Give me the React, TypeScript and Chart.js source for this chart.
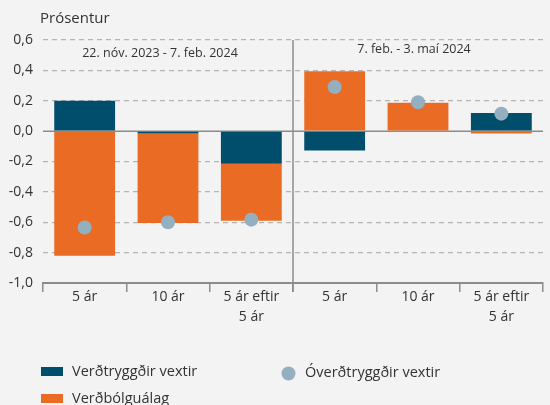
import React, { useEffect, useRef } from "react";
import { Chart, registerables } from "chart.js";

Chart.register(...registerables);

const categories: string[][] = [
  ["5 ár"],
  ["10 ár"],
  ["5 ár eftir", "5 ár"],
  ["5 ár"],
  ["10 ár"],
  ["5 ár eftir", "5 ár"],
];
const realRates = [0.2, -0.015, -0.215, -0.128, 0, 0.12];
const inflationComp = [-0.82, -0.59, -0.375, 0.395, 0.187, -0.015];
const nominalRates = [-0.635, -0.6, -0.583, 0.29, 0.19, 0.115];
const periodLabels = ["22. nóv. 2023 - 7. feb. 2024", "7. feb. - 3. maí 2024"];
const seriesNames = ["Verðtryggðir vextir", "Verðbólguálag", "Óverðtryggðir vextir"];
const yMin = -1.0;
const yMax = 0.6;
const yStep = 0.2;
const yTitle = "Prósentur";

const TEAL = "#004e6b";
const ORANGE = "#ea6c24";
const DOT = "#93afc0";
const TEXT = "#333333";
const FONT = "'Open Sans', 'Noto Sans', sans-serif";

const fmt = (v: number) => {
  let r = Math.round(v * 10) / 10;
  if (r === 0) r = 0;
  return r.toFixed(1).replace(".", ",");
};

const extrasPlugin = {
  id: "extras",
  beforeDraw(chart: any) {
    const ctx = chart.ctx;
    ctx.save();
    ctx.fillStyle = "#f3f3f3";
    ctx.fillRect(0, 0, chart.width, chart.height);
    ctx.restore();
  },
  beforeDatasetsDraw(chart: any) {
    const ctx = chart.ctx;
    const y = chart.scales.y;
    const x = chart.scales.x;
    const area = chart.chartArea;
    ctx.save();
    // zero line
    const y0 = y.getPixelForValue(0);
    ctx.strokeStyle = "#8c8c8c";
    ctx.lineWidth = 1.5;
    ctx.beginPath();
    ctx.moveTo(area.left, y0);
    ctx.lineTo(area.right, y0);
    ctx.stroke();
    // separator
    const xs = (x.getPixelForValue(2) + x.getPixelForValue(3)) / 2;
    ctx.strokeStyle = "#8c8c8c";
    ctx.lineWidth = 1.5;
    ctx.beginPath();
    ctx.moveTo(xs, area.top);
    ctx.lineTo(xs, area.bottom + 9);
    ctx.stroke();
    ctx.restore();
  },
  afterDraw(chart: any) {
    const ctx = chart.ctx;
    const x = chart.scales.x;
    const area = chart.chartArea;
    ctx.save();
    ctx.fillStyle = TEXT;
    // y title
    ctx.font = `15px ${FONT}`;
    ctx.textAlign = "left";
    ctx.textBaseline = "middle";
    ctx.fillText(yTitle, 40, 19);
    // period labels
    ctx.font = `12.5px ${FONT}`;
    ctx.textAlign = "center";
    const c1 = (x.getPixelForValue(0) + x.getPixelForValue(2)) / 2 - 8;
    const c2 = (x.getPixelForValue(3) + x.getPixelForValue(5)) / 2 - 4;
    ctx.fillText(periodLabels[0], c1, area.top + 13);
    ctx.fillText(periodLabels[1], c2, area.top + 9);
    // legend
    ctx.font = `14.5px ${FONT}`;
    ctx.textAlign = "left";
    ctx.fillStyle = TEAL;
    ctx.fillRect(41, 367, 22, 9);
    ctx.fillStyle = ORANGE;
    ctx.fillRect(41, 394, 22, 9);
    ctx.fillStyle = DOT;
    ctx.beginPath();
    ctx.arc(288.5, 373.5, 7, 0, Math.PI * 2);
    ctx.fill();
    ctx.fillStyle = TEXT;
    ctx.fillText(seriesNames[0], 72, 372);
    ctx.fillText(seriesNames[1], 72, 399);
    ctx.fillText(seriesNames[2], 305, 373);
    ctx.restore();
  },
};

export default function App() {
  const ref = useRef<HTMLCanvasElement | null>(null);
  useEffect(() => {
    if (!ref.current) return;
    const chart = new Chart(ref.current, {
      type: "bar",
      data: {
        labels: categories,
        datasets: [
          {
            type: "line",
            label: seriesNames[2],
            data: nominalRates,
            showLine: false,
            pointRadius: 7,
            pointHoverRadius: 7,
            pointBackgroundColor: DOT,
            pointBorderWidth: 0,
            borderColor: DOT,
            backgroundColor: DOT,
            stack: "dots",
            order: 0,
          } as any,
          {
            label: seriesNames[0],
            data: realRates,
            backgroundColor: TEAL,
            stack: "bars",
            order: 1,
            barPercentage: 0.73,
            categoryPercentage: 1,
          },
          {
            label: seriesNames[1],
            data: inflationComp,
            backgroundColor: ORANGE,
            stack: "bars",
            order: 2,
            barPercentage: 0.73,
            categoryPercentage: 1,
          },
        ],
      },
      options: {
        responsive: false,
        animation: false,
        layout: { padding: { top: 40, right: 0, left: 0, bottom: 0 } },
        plugins: {
          legend: { display: false },
          tooltip: { enabled: false },
        },
        scales: {
          x: {
            stacked: true,
            offset: true,
            grid: {
              display: true,
              drawOnChartArea: false,
              drawTicks: true,
              tickLength: 9,
              color: "#8c8c8c",
              lineWidth: 1.5,
              offset: true,
            },
            border: { display: true, color: "#8c8c8c", width: 2 },
            ticks: {
              color: TEXT,
              font: { family: FONT, size: 14, lineHeight: 1.43 },
              padding: -5,
              maxRotation: 0,
              autoSkip: false,
            },
            afterFit(scale: any) {
              scale.height = 122;
            },
          },
          y: {
            stacked: true,
            min: yMin,
            max: yMax,
            grid: {
              drawTicks: false,
              color: (c: any) =>
                c.tick && (Math.abs(c.tick.value) < 1e-9 || Math.abs(c.tick.value - yMin) < 1e-9)
                  ? "rgba(0,0,0,0)"
                  : "#b4b4b4",
              lineWidth: 1.3,
            },
            border: { display: false, dash: [5, 4] },
            ticks: {
              stepSize: yStep,
              color: TEXT,
              font: { family: FONT, size: 14 },
              padding: 10,
              callback: (v: any) => fmt(Number(v)),
            },
            afterFit(scale: any) {
              scale.width = 43;
            },
          },
        },
      },
      plugins: [extrasPlugin],
    });
    return () => chart.destroy();
  }, []);
  return (
    <div style={{ position: "fixed", left: 0, top: 0, width: 550, height: 405, background: "#f3f3f3" }}>
      <canvas ref={ref} width={550} height={405} style={{ display: "block" }} />
    </div>
  );
}
